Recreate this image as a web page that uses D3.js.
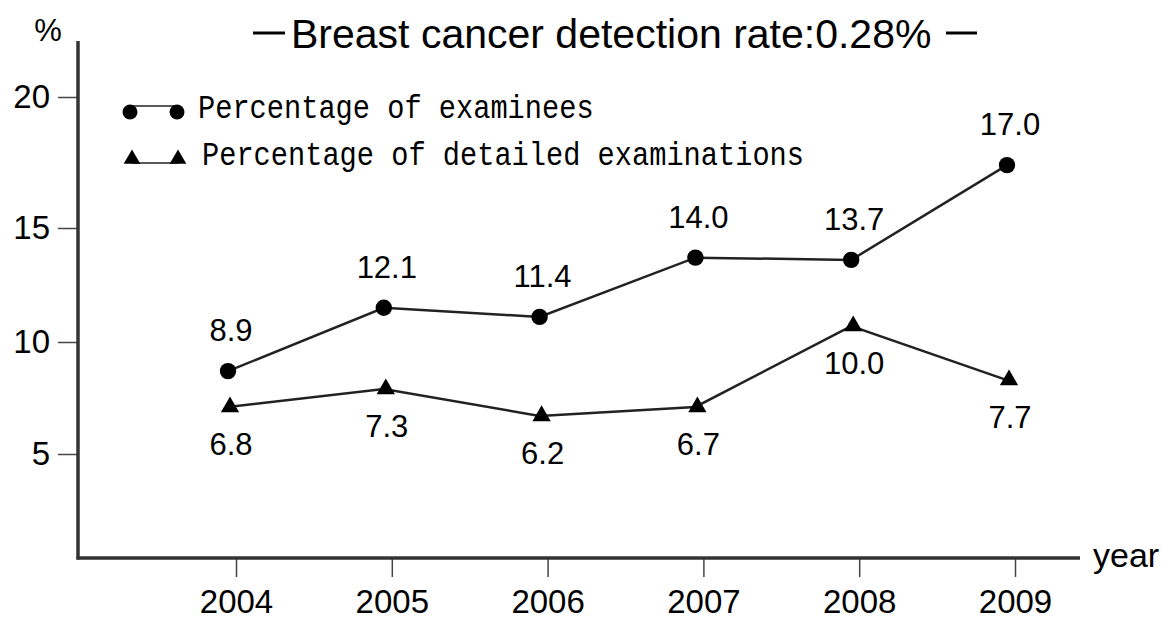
<!DOCTYPE html>
<html>
<head>
<meta charset="utf-8">
<script src="https://cdn.jsdelivr.net/npm/d3@7"></script>
<style>
  html, body { margin: 0; padding: 0; background: #fff; }
  svg { display: block; }
  text { fill: #000; }
</style>
</head>
<body>
<svg id="chart" width="1162" height="619"></svg>
<script>
// ---- data ----
const years = ["2004", "2005", "2006", "2007", "2008", "2009"];
// values printed on the chart
const examineesLabels = [8.9, 12.1, 11.4, 14.0, 13.7, 17.0];
const detailedLabels = [6.8, 7.3, 6.2, 6.7, 10.0, 7.7];
// positions of the marks as drawn in the original (original is not to scale)
const examineesDrawn = [8.7, 11.5, 11.1, 13.7, 13.6, 17.4];
const detailedDrawn = [7.1, 7.9, 6.7, 7.1, 10.7, 8.3];
const yTicks = [5, 10, 15, 20];
const seriesNames = ["Percentage of examinees", "Percentage of detailed examinations"];
const titleText = "Breast cancer detection rate:0.28%";

// ---- layout ----
const SANS = '"Liberation Sans", Arial, sans-serif';
const MONO = '"Liberation Mono", "DejaVu Sans Mono", monospace';
const svg = d3.select("#chart");
const axisX = 78, axisBottom = 558, axisTop = 41, axisRight = 1080;
const ink = "#222";

const x = d3.scalePoint().domain(years).range([236, 1015]);
const xMark = d3.scalePoint().domain(years).range([228, 1007]);
const y = d3.scaleLinear().domain([0, 5, 10, 15, 20]).range([566, 454, 342, 228, 97]);

// title
svg.append("text").attr("x", 291).attr("y", 48)
  .style("font-family", SANS).style("font-size", "41px").text(titleText);
svg.append("line").attr("x1", 253).attr("x2", 285).attr("y1", 33).attr("y2", 33)
  .attr("stroke", "#000").attr("stroke-width", 3);
svg.append("line").attr("x1", 946).attr("x2", 977).attr("y1", 33).attr("y2", 33)
  .attr("stroke", "#000").attr("stroke-width", 3);

// y axis
const gy = svg.append("g").attr("transform", `translate(${axisX},0)`)
  .call(d3.axisLeft(y).tickValues(yTicks).tickSize(20).tickPadding(8).tickFormat(d3.format("d")));
gy.select(".domain").remove();
gy.selectAll(".tick line").attr("stroke", "#444").attr("stroke-width", 1.5);
gy.selectAll(".tick text").style("font-size", "33px").style("font-family", SANS).attr("fill", "#000");

// x axis
const gx = svg.append("g").attr("transform", `translate(0,${axisBottom})`)
  .call(d3.axisBottom(x).tickSize(19).tickPadding(13));
gx.select(".domain").remove();
gx.selectAll(".tick line").attr("stroke", "#444").attr("stroke-width", 1.5);
gx.selectAll(".tick text").style("font-size", "33px").style("font-family", SANS).attr("fill", "#000");

// axis lines
svg.append("line").attr("x1", axisX).attr("x2", axisX).attr("y1", axisTop).attr("y2", axisBottom + 1.5)
  .attr("stroke", "#333").attr("stroke-width", 3.5);
svg.append("line").attr("x1", axisX - 1.5).attr("x2", axisRight).attr("y1", axisBottom).attr("y2", axisBottom)
  .attr("stroke", "#333").attr("stroke-width", 3.5);

svg.append("text").attr("x", 48).attr("y", 41).attr("text-anchor", "middle")
  .style("font-family", SANS).style("font-size", "31px").text("%");
svg.append("text").attr("x", 1093).attr("y", 567)
  .style("font-family", SANS).style("font-size", "34px").text("year");

// series lines
const line = d3.line().x((d, i) => xMark(years[i])).y(d => y(d));
svg.append("path").datum(examineesDrawn).attr("d", line)
  .attr("fill", "none").attr("stroke", ink).attr("stroke-width", 2.5);
svg.append("path").datum(detailedDrawn).attr("d", line)
  .attr("fill", "none").attr("stroke", ink).attr("stroke-width", 2.5);

// markers
svg.selectAll("circle.pt").data(examineesDrawn).enter().append("circle")
  .attr("class", "pt").attr("cx", (d, i) => xMark(years[i])).attr("cy", d => y(d))
  .attr("r", 8.2).attr("fill", "#000");
const tri = d3.symbol().type(d3.symbolTriangle).size(145);
svg.selectAll("path.tri").data(detailedDrawn).enter().append("path")
  .attr("class", "tri").attr("d", tri)
  .attr("transform", (d, i) => `translate(${xMark(years[i]) + 2},${y(d)})`)
  .attr("fill", "#000");

// value labels
svg.selectAll("text.lblE").data(examineesDrawn).enter().append("text")
  .attr("class", "lblE").attr("x", (d, i) => xMark(years[i]) + 3).attr("y", d => y(d) - 30)
  .attr("text-anchor", "middle").style("font-family", SANS).style("font-size", "31px")
  .text((d, i) => examineesLabels[i].toFixed(1));
svg.selectAll("text.lblD").data(detailedDrawn).enter().append("text")
  .attr("class", "lblD").attr("x", (d, i) => xMark(years[i]) + 3).attr("y", d => y(d) + 48)
  .attr("text-anchor", "middle").style("font-family", SANS).style("font-size", "31px")
  .text((d, i) => detailedLabels[i].toFixed(1));

// legend
const lg = svg.append("g");
lg.append("line").attr("x1", 130).attr("x2", 177).attr("y1", 106).attr("y2", 106)
  .attr("stroke", ink).attr("stroke-width", 1.5);
lg.selectAll("circle").data([130, 177]).enter().append("circle")
  .attr("cx", d => d).attr("cy", 112).attr("r", 7.5).attr("fill", "#000");
lg.append("line").attr("x1", 132).attr("x2", 178).attr("y1", 163).attr("y2", 163)
  .attr("stroke", ink).attr("stroke-width", 1.5);
lg.selectAll("path").data([132, 178]).enter().append("path")
  .attr("d", d3.symbol().type(d3.symbolTriangle).size(120))
  .attr("transform", d => `translate(${d},${159})`).attr("fill", "#000");
lg.append("text").attr("x", 198).attr("y", 118)
  .style("font-family", MONO).style("font-size", "34px")
  .attr("textLength", seriesNames[0].length * 17.2).attr("lengthAdjust", "spacingAndGlyphs")
  .text(seriesNames[0]);
lg.append("text").attr("x", 202).attr("y", 165)
  .style("font-family", MONO).style("font-size", "34px")
  .attr("textLength", seriesNames[1].length * 17.2).attr("lengthAdjust", "spacingAndGlyphs")
  .text(seriesNames[1]);
</script>
</body>
</html>
